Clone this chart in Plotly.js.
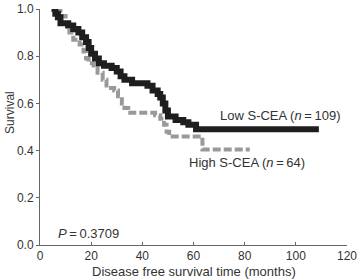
<!DOCTYPE html>
<html>
<head>
<meta charset="utf-8">
<script src="https://cdn.plot.ly/plotly-3.0.1.min.js"></script>
<style>html,body{margin:0;padding:0;background:#fff;}#chart{width:358px;height:280px;}</style>
</head>
<body>
<div id="chart"></div>
<script>
// Low S-CEA (n = 109) Kaplan-Meier steps
var lowTime = [4.5, 6, 7, 8, 11, 13, 15, 16.5, 18, 19, 20, 21.5, 23, 25, 28, 30, 31.5, 33, 36, 42, 44, 46, 47, 48, 49, 50, 53, 56, 58, 61, 109];
var lowSurv = [1.0, 0.98, 0.965, 0.94, 0.93, 0.915, 0.90, 0.88, 0.86, 0.835, 0.81, 0.79, 0.77, 0.76, 0.75, 0.735, 0.715, 0.70, 0.685, 0.675, 0.655, 0.64, 0.625, 0.60, 0.57, 0.545, 0.53, 0.52, 0.51, 0.49, 0.49];
// High S-CEA (n = 64) Kaplan-Meier steps
var highTime = [6.3, 8, 10, 11.5, 13, 15.5, 17, 18, 19, 21, 22.5, 24.5, 26, 29, 30.5, 32, 33, 34.5, 45, 47, 48.5, 49.5, 50.5, 63.5, 82];
var highSurv = [1.0, 0.97, 0.94, 0.90, 0.87, 0.85, 0.82, 0.79, 0.77, 0.75, 0.73, 0.70, 0.665, 0.655, 0.63, 0.60, 0.58, 0.56, 0.55, 0.535, 0.51, 0.48, 0.46, 0.405, 0.405];
var xTicks = [0, 20, 40, 60, 80, 100, 120];
var yTicks = [0.0, 0.2, 0.4, 0.6, 0.8, 1.0];
var lowLabel = "Low S-CEA (<i>n</i>\u2009=\u2009109)";
var highLabel = "High S-CEA (<i>n</i>\u2009=\u200964)";
var pLabel = "<i>P</i>\u2009=\u20090.3709";
var xTitle = "Disease free survival time (months)";
var yTitle = "Survival";

var traces = [
  {x: highTime, y: highSurv, type: 'scatter', mode: 'lines',
   line: {shape: 'hv', color: '#999999', width: 4, dash: '8px,3px'}, hoverinfo: 'skip'},
  {x: lowTime, y: lowSurv, type: 'scatter', mode: 'lines',
   line: {shape: 'hv', color: '#1e1e1e', width: 6}, hoverinfo: 'skip'}
];
var fnt = {family: 'Liberation Sans, Arial, sans-serif', size: 12, color: '#333'};
var fnt13 = {family: 'Liberation Sans, Arial, sans-serif', size: 13, color: '#333'};
var layout = {
  width: 358, height: 280,
  margin: {l: 40, r: 11, t: 9, b: 35},
  paper_bgcolor: '#fff', plot_bgcolor: '#fff',
  showlegend: false,
  font: fnt,
  xaxis: {range: [0, 120], tickvals: xTicks, ticktext: xTicks.map(String),
    showline: true, linecolor: '#666', linewidth: 1, ticks: 'inside', ticklen: 3, tickcolor: '#666',
    showgrid: false, zeroline: false, tickfont: fnt, fixedrange: true},
  yaxis: {range: [0, 1], tickvals: yTicks, ticktext: yTicks.map(function(v){return v.toFixed(1);}),
    showline: true, linecolor: '#666', linewidth: 1, ticks: 'outside', ticklen: 3, tickcolor: '#666',
    showgrid: false, zeroline: false, tickfont: fnt, fixedrange: true},
  annotations: [
    {x: 93.8, y: 0.548, xref: 'x', yref: 'y', text: lowLabel, showarrow: false, font: fnt13, xanchor: 'center', yanchor: 'middle'},
    {x: 81.1, y: 0.350, xref: 'x', yref: 'y', text: highLabel, showarrow: false, font: fnt13, xanchor: 'center', yanchor: 'middle'},
    {x: 18.8, y: 0.049, xref: 'x', yref: 'y', text: pLabel, showarrow: false, font: fnt13, xanchor: 'center', yanchor: 'middle'},
    {x: -0.096, y: 0.562, xref: 'paper', yref: 'paper', text: yTitle, textangle: -90, showarrow: false, font: fnt, xanchor: 'center', yanchor: 'middle'},
    {x: 0.501, y: -0.113, xref: 'paper', yref: 'paper', text: xTitle, showarrow: false, font: fnt13, xanchor: 'center', yanchor: 'middle'}
  ]
};
Plotly.newPlot('chart', traces, layout, {displayModeBar: false, staticPlot: true});
</script>
</body>
</html>
